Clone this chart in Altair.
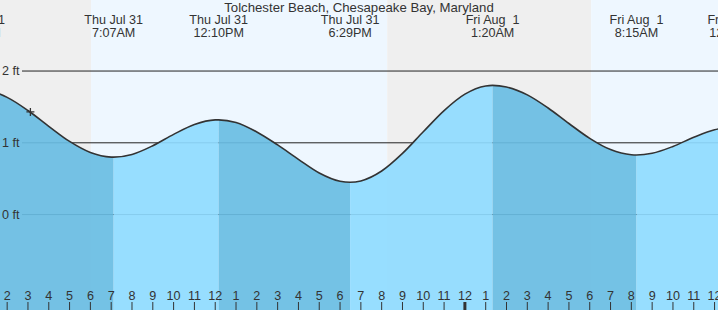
import altair as alt
import pandas as pd

TITLE = "Tolchester Beach, Chesapeake Bay, Maryland"

# Tide extremes (time, height in ft, two-line labels)
extreme_times = ["2025-07-31 00:29", "2025-07-31 07:07", "2025-07-31 12:10",
                 "2025-07-31 18:29", "2025-08-01 01:20", "2025-08-01 08:15",
                 "2025-08-01 12:57"]
extreme_ft = [1.75, 0.80, 1.32, 0.45, 1.80, 0.83, 1.22]
extreme_day = ["Thu Jul 31", "Thu Jul 31", "Thu Jul 31", "Thu Jul 31",
               "Fri Aug \u00a01", "Fri Aug \u00a01", "Fri Aug \u00a01"]
extreme_clock = ["12:29AM", "7:07AM", "12:10PM", "6:29PM", "1:20AM", "8:15AM", "12:57PM"]

# Hourly heights, Jul 31 01:00 ... Aug 1 13:00
hourly_start = "2025-07-31 01:00"
hourly_ft = [1.736, 1.633, 1.450, 1.230, 1.019, 0.865, 0.801, 0.838, 0.959, 1.117,
             1.255, 1.319, 1.283, 1.151, 0.970, 0.770, 0.580, 0.465, 0.469, 0.607,
             0.852, 1.154, 1.449, 1.678, 1.792, 1.778, 1.668, 1.485, 1.269, 1.062,
             0.905, 0.833, 0.854, 0.949, 1.077, 1.182, 1.220]

# Day / night bands
band_start = ["2025-07-30 22:00", "2025-07-31 06:02", "2025-07-31 20:16", "2025-08-01 06:04"]
band_end = ["2025-07-31 06:02", "2025-07-31 20:16", "2025-08-01 06:04", "2025-08-01 16:00"]
band_kind = ["night", "day", "night", "day"]

# Current time marker
now_time = "2025-07-31 03:07"
now_ft = 1.43

grid_ft = [0, 1, 2]
grid_labels = ["0 ft", "1 ft", "2 ft"]

REF = pd.Timestamp("2025-08-01 00:00")


def hrs(s):
    return (pd.Timestamp(s) - REF).total_seconds() / 3600.0


W, H = 718, 310
X_MIN, X_MAX = -22.344, 12.165
Y_MIN, Y_MAX = -1.33, 2.99

xs = alt.Scale(domain=[X_MIN, X_MAX], nice=False, zero=False)
ys = alt.Scale(domain=[Y_MIN, Y_MAX], nice=False, zero=False)

FONT = "Liberation Sans"
TXT = "#333333"
FS = 12.6

# ---- data tables ----
ext_t = [hrs(t) for t in extreme_times]
hour_t = [hrs(t) for t in pd.date_range(hourly_start, periods=len(hourly_ft), freq="h").astype(str)]

pts = sorted([(t, v) for t, v in zip(ext_t, extreme_ft)] +
             [(t, v) for t, v in zip(hour_t, hourly_ft)])
line_df = pd.DataFrame(pts, columns=["t", "ft"])

rows = []
for k in range(len(ext_t) - 1):
    a, b = ext_t[k], ext_t[k + 1]
    phase = "falling" if extreme_ft[k + 1] < extreme_ft[k] else "rising"
    for t, v in pts:
        if a - 1e-9 <= t <= b + 1e-9:
            rows.append({"t": t, "ft": v, "seg": k, "phase": phase})
area_df = pd.DataFrame(rows)

band_df = pd.DataFrame({"t": [hrs(s) for s in band_start],
                        "t2": [hrs(e) for e in band_end],
                        "kind": band_kind})

ext_df = pd.DataFrame({"t": ext_t, "day": extreme_day, "clock": extreme_clock})

hours = list(range(-23, 13))
tick_df = pd.DataFrame({"t": hours,
                        "lab": [str(((h % 12) + 12) % 12 or 12) for h in hours],
                        "w": [3 if h == 0 else 1 for h in hours]})

grid_df = pd.DataFrame({"ft": grid_ft, "lab": grid_labels})
now_df = pd.DataFrame({"t": [hrs(now_time)], "ft": [now_ft]})

# ---- layers ----
bands = alt.Chart(band_df).mark_rect(clip=True).encode(
    x=alt.X("t:Q", scale=xs, axis=None),
    x2="t2:Q",
    y=alt.value(0), y2=alt.value(H),
    color=alt.Color("kind:N", scale=alt.Scale(domain=["night", "day"],
                                               range=["#efefef", "#eef7ff"]), legend=None),
)

grid = alt.Chart(grid_df).mark_rule(color="#222222", strokeWidth=1).encode(
    y=alt.Y("ft:Q", scale=ys, axis=None),
    x=alt.value(22), x2=alt.value(W),
)

area = alt.Chart(area_df).mark_area(interpolate="monotone", opacity=0.92, clip=True).encode(
    x=alt.X("t:Q", scale=xs, axis=None),
    y=alt.Y("ft:Q", scale=ys, axis=None, stack=None),
    y2=alt.datum(Y_MIN),
    detail="seg:N",
    color=alt.Color("phase:N", scale=alt.Scale(domain=["falling", "rising"],
                                                range=["#69bde3", "#8fdbff"]), legend=None),
)

line = alt.Chart(line_df).mark_line(interpolate="monotone", color="#333333",
                                    strokeWidth=1.6, clip=True).encode(
    x=alt.X("t:Q", scale=xs, axis=None),
    y=alt.Y("ft:Q", scale=ys, axis=None),
)

now_mark = alt.Chart(now_df).mark_point(shape="M-1,0L1,0M0,-1L0,1", size=64, filled=False,
                                        color="#333333", strokeWidth=1.3, opacity=1).encode(
    x=alt.X("t:Q", scale=xs, axis=None),
    y=alt.Y("ft:Q", scale=ys, axis=None),
)

ylabels = alt.Chart(grid_df).mark_text(align="left", baseline="middle", fontSize=FS,
                                       font=FONT, color=TXT).encode(
    y=alt.Y("ft:Q", scale=ys, axis=None),
    x=alt.value(2),
    text="lab:N",
)

ticks = alt.Chart(tick_df).mark_rule(color="#333333").encode(
    x=alt.X("t:Q", scale=xs, axis=None),
    y=alt.value(302), y2=alt.value(H),
    strokeWidth=alt.StrokeWidth("w:Q", scale=None, legend=None),
)

tick_labels = alt.Chart(tick_df).mark_text(align="center", baseline="alphabetic", fontSize=FS,
                                           font=FONT, color=TXT).encode(
    x=alt.X("t:Q", scale=xs, axis=None),
    y=alt.value(300),
    text="lab:N",
)

ext_l1 = alt.Chart(ext_df).mark_text(align="center", baseline="alphabetic", fontSize=FS,
                                     font=FONT, color=TXT).encode(
    x=alt.X("t:Q", scale=xs, axis=None),
    y=alt.value(24.3),
    text="day:N",
)
ext_l2 = alt.Chart(ext_df).mark_text(align="center", baseline="alphabetic", fontSize=FS,
                                     font=FONT, color=TXT).encode(
    x=alt.X("t:Q", scale=xs, axis=None),
    y=alt.value(36.7),
    text="clock:N",
)

title = alt.Chart(pd.DataFrame({"lab": [TITLE]})).mark_text(
    align="center", baseline="alphabetic", fontSize=13.2, font=FONT, color=TXT).encode(
    x=alt.value(W / 2), y=alt.value(12), text="lab:N")

chart = alt.layer(bands, grid, area, line, now_mark, ylabels, ticks, tick_labels,
                  ext_l1, ext_l2, title).resolve_scale(color="independent").properties(
    width=W, height=H, padding=0, autosize=alt.AutoSizeParams(type="none"),
    background="white",
).configure_view(stroke=None)

chart.save("out.html", embed_options={"renderer": "svg", "actions": False})
